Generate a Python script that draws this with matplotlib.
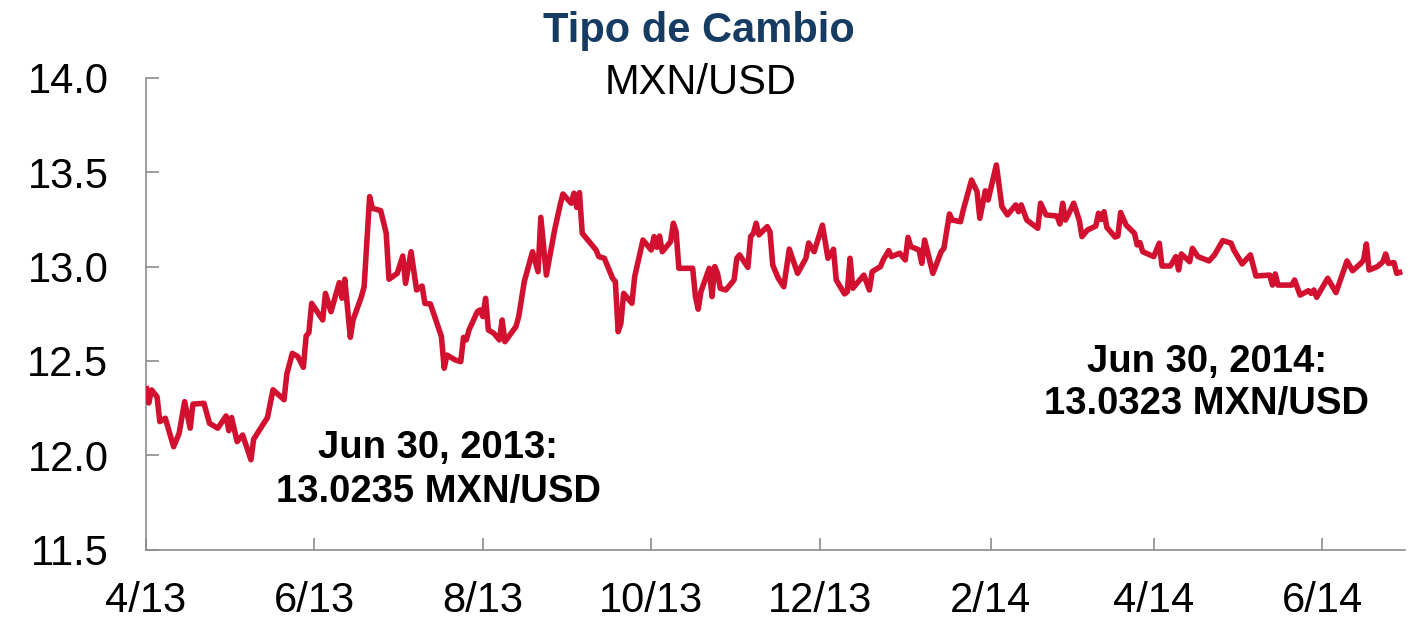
import matplotlib
matplotlib.use("Agg")
import matplotlib.pyplot as plt
import matplotlib.dates as mdates
import pandas as pd

plt.rcParams['font.family'] = ['Liberation Sans', 'DejaVu Sans']

title = "Tipo de Cambio"
subtitle = "MXN/USD"
note_2013 = ["Jun 30, 2013:", "13.0235 MXN/USD"]
note_2014 = ["Jun 30, 2014:", "13.0323 MXN/USD"]

dates = [
    "2013-04-01", "2013-04-02", "2013-04-03", "2013-04-05", "2013-04-06", "2013-04-08",
    "2013-04-11", "2013-04-13", "2013-04-15", "2013-04-17", "2013-04-18", "2013-04-22",
    "2013-04-24", "2013-04-27", "2013-04-30", "2013-05-01", "2013-05-02", "2013-05-04",
    "2013-05-06", "2013-05-09", "2013-05-10", "2013-05-15", "2013-05-17", "2013-05-21",
    "2013-05-22", "2013-05-24", "2013-05-26", "2013-05-28", "2013-05-29", "2013-05-30",
    "2013-05-31", "2013-06-04", "2013-06-05", "2013-06-07", "2013-06-10", "2013-06-11",
    "2013-06-12", "2013-06-14", "2013-06-15", "2013-06-18", "2013-06-19", "2013-06-21",
    "2013-06-22", "2013-06-25", "2013-06-27", "2013-06-28", "2013-07-01", "2013-07-03",
    "2013-07-04", "2013-07-06", "2013-07-08", "2013-07-10", "2013-07-11", "2013-07-13",
    "2013-07-17", "2013-07-18", "2013-07-19", "2013-07-22", "2013-07-24", "2013-07-25",
    "2013-07-26", "2013-07-27", "2013-07-30", "2013-07-31", "2013-08-01", "2013-08-02",
    "2013-08-03", "2013-08-05", "2013-08-07", "2013-08-08", "2013-08-09", "2013-08-13",
    "2013-08-14", "2013-08-16", "2013-08-19", "2013-08-21", "2013-08-22", "2013-08-24",
    "2013-08-27", "2013-08-29", "2013-08-30", "2013-09-02", "2013-09-03", "2013-09-04",
    "2013-09-05", "2013-09-06", "2013-09-11", "2013-09-12", "2013-09-14", "2013-09-17",
    "2013-09-18", "2013-09-19", "2013-09-20", "2013-09-21", "2013-09-24", "2013-09-25",
    "2013-09-28", "2013-10-01", "2013-10-02", "2013-10-03", "2013-10-04", "2013-10-05",
    "2013-10-08", "2013-10-09", "2013-10-10", "2013-10-11", "2013-10-16", "2013-10-17",
    "2013-10-18", "2013-10-19", "2013-10-22", "2013-10-23", "2013-10-24", "2013-10-25",
    "2013-10-26", "2013-10-28", "2013-10-31", "2013-11-01", "2013-11-02", "2013-11-05",
    "2013-11-06", "2013-11-07", "2013-11-08", "2013-11-09", "2013-11-12", "2013-11-13",
    "2013-11-14", "2013-11-16", "2013-11-18", "2013-11-20", "2013-11-23", "2013-11-26",
    "2013-11-27", "2013-11-29", "2013-12-02", "2013-12-04", "2013-12-06", "2013-12-07",
    "2013-12-10", "2013-12-11", "2013-12-12", "2013-12-13", "2013-12-17", "2013-12-19",
    "2013-12-20", "2013-12-23", "2013-12-24", "2013-12-26", "2013-12-27", "2013-12-30",
    "2014-01-01", "2014-01-02", "2014-01-03", "2014-01-06", "2014-01-07", "2014-01-08",
    "2014-01-11", "2014-01-14", "2014-01-15", "2014-01-17", "2014-01-18", "2014-01-21",
    "2014-01-22", "2014-01-25", "2014-01-27", "2014-01-28", "2014-01-30", "2014-01-31",
    "2014-02-03", "2014-02-05", "2014-02-07", "2014-02-10", "2014-02-11", "2014-02-12",
    "2014-02-14", "2014-02-18", "2014-02-19", "2014-02-21", "2014-02-25", "2014-02-26",
    "2014-02-27", "2014-02-28", "2014-03-01", "2014-03-03", "2014-03-05", "2014-03-06",
    "2014-03-08", "2014-03-11", "2014-03-12", "2014-03-13", "2014-03-14", "2014-03-15",
    "2014-03-18", "2014-03-19", "2014-03-20", "2014-03-22", "2014-03-25", "2014-03-26",
    "2014-03-27", "2014-03-28", "2014-04-01", "2014-04-03", "2014-04-04", "2014-04-07",
    "2014-04-09", "2014-04-10", "2014-04-11", "2014-04-14", "2014-04-15", "2014-04-17",
    "2014-04-21", "2014-04-23", "2014-04-26", "2014-04-29", "2014-04-30", "2014-05-03",
    "2014-05-06", "2014-05-08", "2014-05-13", "2014-05-14", "2014-05-15", "2014-05-16",
    "2014-05-21", "2014-05-22", "2014-05-24", "2014-05-27", "2014-05-28", "2014-05-29",
    "2014-05-30", "2014-06-03", "2014-06-06", "2014-06-10", "2014-06-12", "2014-06-15",
    "2014-06-16", "2014-06-17", "2014-06-18", "2014-06-21", "2014-06-23", "2014-06-24",
    "2014-06-25", "2014-06-27", "2014-06-28", "2014-06-30",
]

rates = [
    12.367, 12.277, 12.346, 12.310, 12.178, 12.196,
    12.045, 12.116, 12.284, 12.143, 12.271, 12.275,
    12.169, 12.143, 12.208, 12.130, 12.200, 12.072,
    12.107, 11.976, 12.085, 12.200, 12.347, 12.294,
    12.430, 12.540, 12.523, 12.466, 12.632, 12.650,
    12.805, 12.717, 12.858, 12.761, 12.915, 12.832,
    12.933, 12.625, 12.717, 12.840, 12.893, 13.371,
    13.309, 13.297, 13.177, 12.933, 12.964, 13.056,
    12.911, 13.079, 12.876, 12.897, 12.805, 12.802,
    12.629, 12.461, 12.531, 12.505, 12.496, 12.625,
    12.611, 12.664, 12.761, 12.770, 12.735, 12.832,
    12.664, 12.646, 12.611, 12.717, 12.602, 12.682,
    12.735, 12.920, 13.079, 12.973, 13.261, 12.955,
    13.194, 13.327, 13.385, 13.336, 13.389, 13.314,
    13.392, 13.177, 13.088, 13.053, 13.044, 12.938,
    12.920, 12.655, 12.699, 12.858, 12.805, 12.947,
    13.141, 13.088, 13.159, 13.102, 13.162, 13.079,
    13.132, 13.230, 13.185, 12.991, 12.991, 12.841,
    12.774, 12.867, 12.991, 12.841, 13.000, 12.964,
    12.885, 12.876, 12.929, 13.044, 13.062, 12.996,
    13.159, 13.177, 13.230, 13.168, 13.212, 13.185,
    13.008, 12.938, 12.893, 13.093, 12.964, 13.044,
    13.125, 13.079, 13.220, 13.044, 13.092, 12.929,
    12.855, 12.867, 13.044, 12.885, 12.955, 12.876,
    12.973, 13.000, 13.035, 13.085, 13.053, 13.071,
    13.035, 13.155, 13.106, 13.088, 13.017, 13.141,
    12.964, 13.079, 13.097, 13.279, 13.247, 13.238,
    13.300, 13.459, 13.397, 13.256, 13.402, 13.353,
    13.539, 13.318, 13.274, 13.327, 13.291, 13.327,
    13.247, 13.203, 13.336, 13.274, 13.268, 13.226,
    13.336, 13.247, 13.274, 13.336, 13.247, 13.159,
    13.194, 13.215, 13.283, 13.250, 13.291, 13.208,
    13.157, 13.162, 13.287, 13.220, 13.177, 13.115,
    13.127, 13.079, 13.053, 13.124, 13.003, 13.003,
    13.053, 12.982, 13.067, 13.026, 13.097, 13.053,
    13.030, 13.062, 13.138, 13.124, 13.088, 13.014,
    13.062, 12.950, 12.955, 12.902, 12.961, 12.902,
    12.902, 12.929, 12.849, 12.872, 12.858, 12.876,
    12.837, 12.938, 12.862, 13.030, 12.978, 13.017,
    13.035, 13.120, 12.982, 13.000, 13.026, 13.067,
    13.017, 13.021, 12.964, 12.973,
]

y_ticks = [11.5, 12.0, 12.5, 13.0, 13.5, 14.0]
x_range = ["2013-04-01", "2014-07-01"]

W, H = 1425, 619
fig = plt.figure(figsize=(W / 100, H / 100), dpi=100)
ax = fig.add_axes([146 / W, 1 - 549.5 / H, (1405 - 146) / W, (549.5 - 78) / H])

x = pd.to_datetime(dates)
ax.plot(x, rates, color='#D2102F', lw=4.0, solid_joinstyle='round',
        solid_capstyle='butt', zorder=3)

ax.set_xlim(pd.Timestamp(x_range[0]), pd.Timestamp(x_range[1]))
ax.set_ylim(y_ticks[0], y_ticks[-1])
ax.set_yticks(y_ticks)
ax.set_yticklabels([f"{v:.1f}" for v in y_ticks])
ax.xaxis.set_major_locator(mdates.MonthLocator(bymonth=[2, 4, 6, 8, 10, 12]))
ax.xaxis.set_major_formatter(
    matplotlib.ticker.FuncFormatter(lambda v, p: f"{mdates.num2date(v).month}/{mdates.num2date(v).strftime('%y')}"))

for s in ['top', 'right']:
    ax.spines[s].set_visible(False)
for s in ['left', 'bottom']:
    ax.spines[s].set_color('#8C8C8C')
    ax.spines[s].set_linewidth(1.2)

ax.tick_params(axis='y', direction='in', length=9, width=1.2, color='#8C8C8C',
               labelsize=30, pad=27, labelcolor='black')
ax.tick_params(axis='x', direction='in', length=9, width=1.2, color='#8C8C8C',
               labelsize=30, pad=23, labelcolor='black')

fig.text(699 / W, 1 - 41.7 / H, title, ha='center', va='baseline',
         fontsize=30, fontweight='bold', color='#173C64')
fig.text(701 / W, 1 - 94.3 / H, subtitle, ha='center', va='baseline',
         fontsize=30, color='black')

fig.text(438 / W, 1 - 457.7 / H, note_2013[0], ha='center', va='baseline',
         fontsize=27.5, fontweight='bold', color='black')
fig.text(438 / W, 1 - 501.7 / H, note_2013[1], ha='center', va='baseline',
         fontsize=27.5, fontweight='bold', color='black')
fig.text(1207 / W, 1 - 371.7 / H, note_2014[0], ha='center', va='baseline',
         fontsize=27.5, fontweight='bold', color='black')
fig.text(1207 / W, 1 - 414.3 / H, note_2014[1], ha='center', va='baseline',
         fontsize=27.5, fontweight='bold', color='black')

fig.savefig("out.png", dpi=100, facecolor='white')
